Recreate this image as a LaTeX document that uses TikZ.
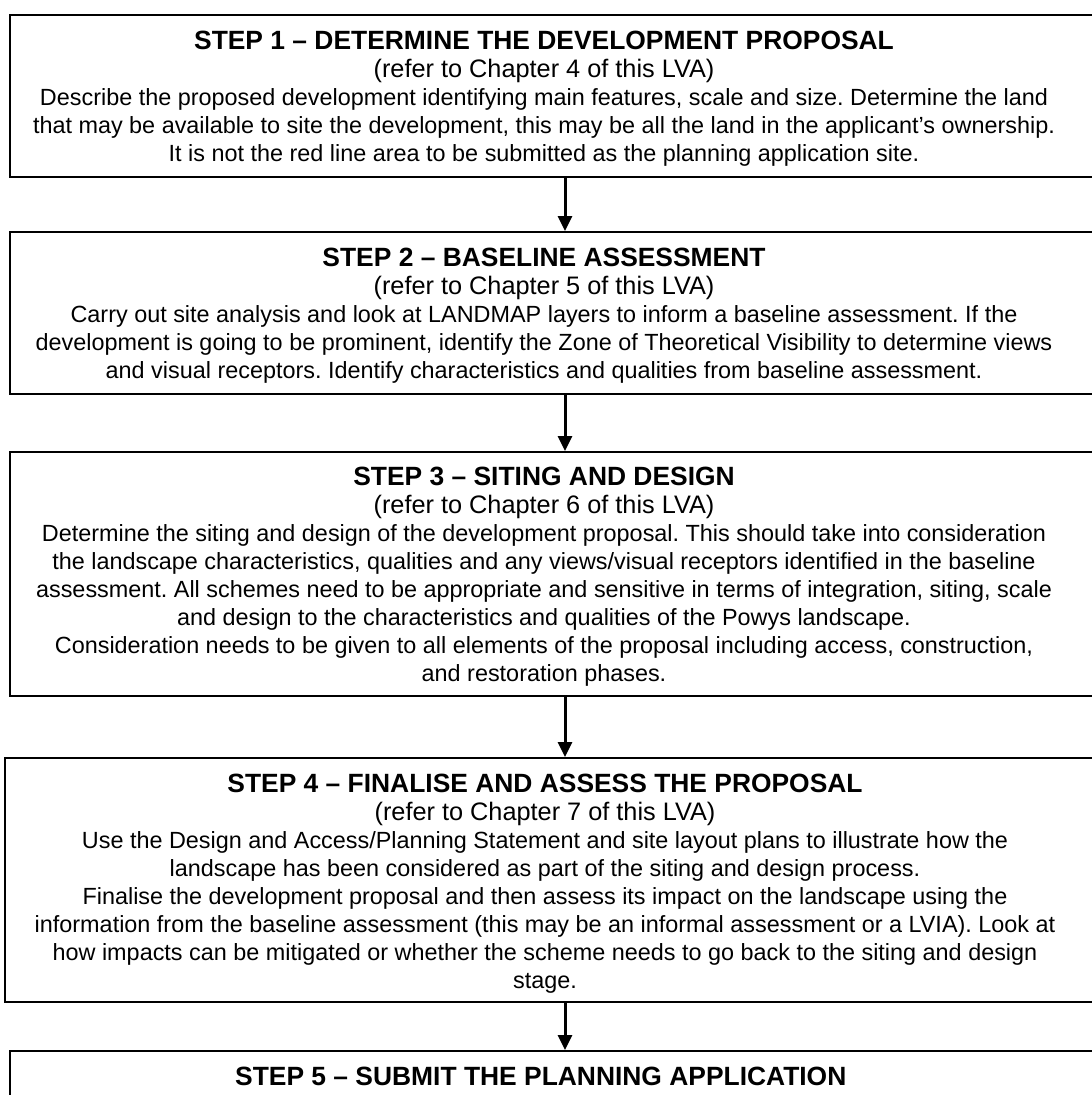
\documentclass[tikz,border=0pt]{standalone}
\usepackage{fontspec}
\setmainfont{Liberation Sans}
\usepackage{tikz}
\usetikzlibrary{positioning, arrows.meta}

\frenchspacing
\newcommand{\stepFont}{\fontsize{23.4}{28}\selectfont}
\newcommand{\stepTitle}[1]{{\fontsize{26.4}{28}\selectfont\bfseries #1}}
\newcommand{\stepRef}[1]{{\fontsize{25.3}{28}\selectfont (refer to Chapter #1 of this LVA)}}

\begin{document}
\begin{tikzpicture}[
    x = 1pt, y = -1pt,
    stepBox/.append style = {draw, rectangle, line width = 2pt, minimum width = 1110pt, inner sep = 0pt},
    stepText/.append style = {align = center, font = \stepFont, inner sep = 0pt, anchor = north},
    myArrow/.append style = {->, >={Triangle[width = 14pt, length = 15pt]}, line width = 3pt}
    ]
      \useasboundingbox (0, 0) rectangle (1092, 1095);

      \node[stepBox, minimum height = 162pt] (step1) at (565, 96) {};
      \node[stepBox, minimum height = 162pt, below = 53pt of step1] (step2) {};
      \node[stepBox, minimum height = 244pt, below = 56pt of step2] (step3) {};
      \node[stepBox, minimum height = 244pt, minimum width = 1120pt, below = 60pt of step3] (step4) {};
      \node[stepBox, minimum height = 120pt, below = 47pt of step4] (step5) {};

      \node[stepText] (step1Text) at ([xshift = -21pt, yshift = -17pt]step1.north) {
      \stepTitle{STEP 1 – DETERMINE THE DEVELOPMENT PROPOSAL}\\
      \stepRef{4}\\
      Describe the proposed development identifying main features, scale and size. Determine the land\\
      that may be available to site the development, this may be all the land in the applicant’s ownership.\\
      It is not the red line area to be submitted as the planning application site.
      };

      \node[stepText] (step2Text) at ([xshift = -21pt, yshift = -17pt]step2.north) {
      \stepTitle{STEP 2 – BASELINE ASSESSMENT}\\
      \stepRef{5}\\
      Carry out site analysis and look at LANDMAP layers to inform a baseline assessment. If the\\
      development is going to be prominent, identify the Zone of Theoretical Visibility to determine views\\
      and visual receptors. Identify characteristics and qualities from baseline assessment.
      };

      \node[stepText] (step3Text) at ([xshift = -21pt, yshift = -16pt]step3.north) {
      \stepTitle{STEP 3 – SITING AND DESIGN}\\
      \stepRef{6}\\
      Determine the siting and design of the development proposal. This should take into consideration\\
      the landscape characteristics, qualities and any views/visual receptors identified in the baseline\\
      assessment. All schemes need to be appropriate and sensitive in terms of integration, siting, scale\\
      and design to the characteristics and qualities of the Powys landscape.\\
      Consideration needs to be given to all elements of the proposal including access, construction,\\
      and restoration phases.
      };

      \node[stepText] (step4Text) at ([xshift = -20pt, yshift = -17pt]step4.north) {
      \stepTitle{STEP 4 – FINALISE AND ASSESS THE PROPOSAL}\\
      \stepRef{7}\\
      Use the Design and Access/Planning Statement and site layout plans to illustrate how the\\
      landscape has been considered as part of the siting and design process.\\
      Finalise the development proposal and then assess its impact on the landscape using the\\
      information from the baseline assessment (this may be an informal assessment or a LVIA). Look at\\
      how impacts can be mitigated or whether the scheme needs to go back to the siting and design\\
      stage.
      };

      \node[stepText] (step5Text) at ([xshift = -21pt, yshift = -17pt]step5.north) {
      \stepTitle{STEP 5 – SUBMIT THE PLANNING APPLICATION}
      };

      %% Arrows

      \draw[myArrow] (step1) -- (step2);
      \draw[myArrow] (step2) -- (step3);
      \draw[myArrow] (step3) -- (step4);
      \draw[myArrow] (step4) -- (step5);
    \end{tikzpicture}
\end{document}
